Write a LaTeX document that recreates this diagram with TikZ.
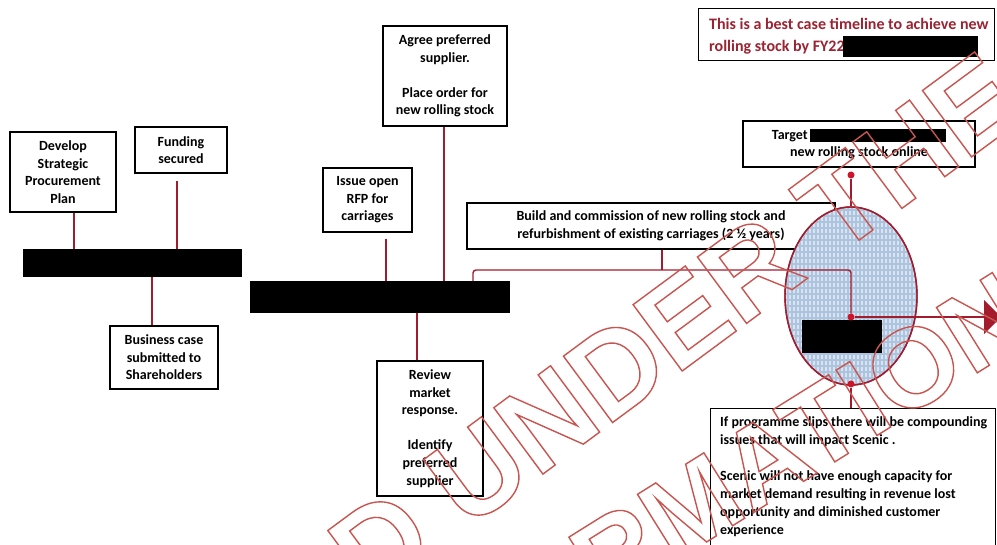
\documentclass[tikz,border=0pt]{standalone}
\usepackage{fontspec}
\setmainfont{Carlito}
\newfontfamily\wmfont{Liberation Sans}
\usetikzlibrary{shapes.geometric,arrows.meta}
\definecolor{lnred}{RGB}{163,28,45}
\definecolor{dotred}{RGB}{205,20,40}
\definecolor{ttlred}{RGB}{155,35,50}
\definecolor{wmred}{RGB}{200,85,80}
\definecolor{ellblue}{RGB}{172,196,222}
\newcommand{\outlinetext}[1]{\special{pdf:literal direct 1 Tr 1.4 w}#1\special{pdf:literal direct 0 Tr}}
\tikzset{
  box/.style={draw=black, line width=1.1pt, fill=white, align=center, inner sep=0pt,
    font=\bfseries\fontsize{14}{17.6}\selectfont},
  plainbox/.style={draw=black, line width=1.1pt, fill=white, inner sep=0pt},
  redact/.style={fill=black, inner sep=0pt},
  link/.style={draw=lnred, line width=1.4pt},
  rdot/.style={circle, fill=dotred, inner sep=0pt, minimum size=7pt},
  wm/.style={font=\wmfont\bfseries\fontsize{120}{120}\selectfont, text=wmred, inner sep=0pt, rotate=36.5},
  wmlow/.style={font=\wmfont\bfseries\fontsize{112}{112}\selectfont, text=wmred, inner sep=0pt, rotate=32}
}
\begin{document}
\begin{tikzpicture}[x=1pt,y=-1pt]
\useasboundingbox (0,0) rectangle (997,545);
\clip (0,0) rectangle (997,545);
\fill[white] (0,0) rectangle (997,545);

% title box
\node[plainbox, anchor=north west, minimum width=296pt, minimum height=52pt] (ttl) at (698,8) {};
\node[anchor=north west, align=left, inner sep=0pt, text=ttlred,
  font=\bfseries\fontsize{16}{22}\selectfont] (ttltxt) at (709,18)
  {This is a best case timeline to achieve new\\rolling stock by FY22};
\node[redact, minimum width=135pt, minimum height=21pt] (ttlred) at (910.5,46.5) {};

% left group
\node[redact, minimum width=219pt, minimum height=28pt] (bar1) at (132.5,263) {};
\node[box, minimum width=106pt, minimum height=80pt] (dev) at (63,172) {Develop\\Strategic\\Procurement\\Plan};
\node[box, minimum width=92pt, minimum height=46pt] (fund) at (181,150) {Funding\\secured};
\node[box, minimum width=108pt, minimum height=63pt] (bus) at (164,357.5) {Business case\\submitted to\\Shareholders};
\draw[link] ([xshift=11pt]dev.south) -- ([xshift=11pt]dev.south |- bar1.north);
\draw[link] ([xshift=-4pt,yshift=-7pt]fund.south) -- ([xshift=-4pt]fund.south |- bar1.north);
\draw[link] ([xshift=-12pt]bus.north |- bar1.south) -- ([xshift=-12pt]bus.north);

% middle group
\node[redact, minimum width=260pt, minimum height=32pt] (bar2) at (380,297) {};
\node[box, minimum width=89pt, minimum height=64pt] (rfp) at (367.5,200) {Issue open\\RFP for\\carriages};
\node[box, minimum width=124pt, minimum height=100pt] (agree) at (445,76) {Agree preferred\\supplier.\\[17.6pt]Place order for\\new rolling stock};
\node[box, minimum width=106pt, minimum height=135pt] (review) at (430,428.5) {Review\\market\\response.\\[17.6pt]Identify\\preferred\\supplier};
\draw[link] ([xshift=18.5pt,yshift=-6pt]rfp.south) -- ([xshift=18.5pt]rfp.south |- bar2.north);
\draw[link] ([xshift=-1pt]agree.south) -- ([xshift=-1pt]agree.south |- bar2.north);
\draw[link] ([xshift=-13pt]review.north |- bar2.south) -- ([xshift=-13pt]review.north);

% build box
\node[box, minimum width=368pt, minimum height=46pt] (build) at (651,226) {Build and commission of new rolling stock and\\refurbishment of existing carriages (2 \textonehalf\ years)};

% target box
\node[box, minimum width=232pt, minimum height=46pt] (target) at (859,144) {Target\,\rule[-3pt]{136pt}{13.5pt}\\new rolling stock online};

% risk box
\node[plainbox, anchor=north west, minimum width=285pt, minimum height=150pt] (risk) at (710,408) {};
\node[anchor=north west, align=left, inner sep=0pt, font=\bfseries\fontsize{14}{18}\selectfont] (risktxt) at (720,416)
  {If programme slips there will be compounding\\issues that will impact Scenic .\\[18pt]Scenic will not have enough capacity for\\market demand resulting in revenue lost\\opportunity and diminished customer\\experience};

% ellipse
\node[ellipse, draw=lnred, line width=1.4pt, fill=ellblue, minimum width=132pt, minimum height=178pt, inner sep=0pt] (ell) at (851,296) {};
\begin{scope}
  \path[clip] (851,296) ellipse [x radius=65pt, y radius=88pt];
  \foreach \xx in {786,790,...,918} {
    \draw[white, opacity=0.55, line width=1.3pt, dash pattern=on 4pt off 2pt] (\xx,205) -- (\xx,390);
  }
\end{scope}
\draw[lnred, line width=1.4pt] (851,296) ellipse [x radius=66pt, y radius=89pt];
\node[redact, minimum width=80pt, minimum height=33pt] (ellred) at (842,336.5) {};

% dots and red connectors
\coordinate (bend) at (473,270);
\node[rdot] (dtop) at (851,175) {};
\node[rdot] (dmid) at (851,317) {};
\node[rdot] (dbot) at (851,384) {};
\coordinate (arrend) at (1001,317);
\draw[link, rounded corners=3pt] (bar2.north -| bend) -- (bend) -| (dmid);
\draw[link] ([xshift=11pt]build.south) -- ([xshift=11pt]build.south |- bend);
\draw[link] (dtop) -- (ell.north);
\draw[link] (dbot) -- (dbot |- risk.north);
\draw[link, -{Triangle[length=17pt,width=34pt]}] (dmid) -- (arrend);

% watermark
\node[wm, anchor=base west] (wm1) at (370.3,601.8) {\outlinetext{D UNDER THE}};
\node[wmlow, anchor=base west] (wm2) at (603.2,606.6) {\outlinetext{RMATION}};
\end{tikzpicture}
\end{document}
